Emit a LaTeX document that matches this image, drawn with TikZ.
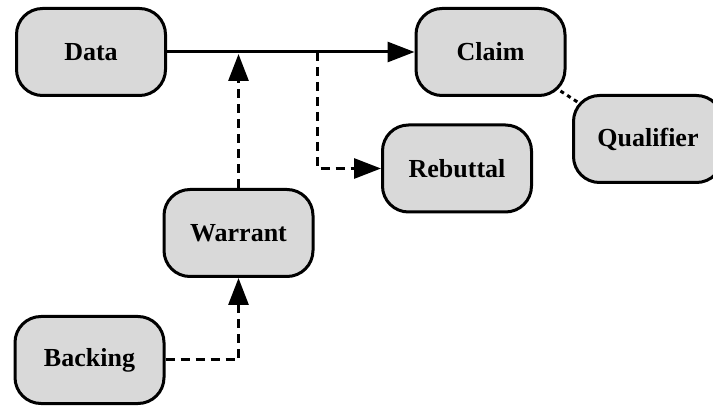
\documentclass[tikz,border=0pt]{standalone}
\usepackage{fontspec}
\setmainfont{Liberation Serif}
\usetikzlibrary{arrows.meta}

\tikzset{
  part/.style={draw, line width=3pt, fill=black!15, rounded corners=26pt,
    minimum width=149pt, minimum height=87pt, inner sep=0pt,
    font=\fontsize{26}{30}\selectfont\bfseries},
  tip/.style={-{Triangle[length=27pt,width=20pt]}},
  dashline/.style={line width=3pt, dash pattern=on 9pt off 6pt},
  dotline/.style={line width=3pt, dash pattern=on 4pt off 4pt}
}

\begin{document}
\begin{tikzpicture}[x=1pt, y=-1pt]

\useasboundingbox (0,0) rectangle (713,406);

\node[part] (data) at (91,52) {Data};
\node[part] (claim) at (490.5,52) {Claim};
\node[part] (qualifier) at (648,139) {Qualifier};
\node[part] (rebuttal) at (457,168.5) {Rebuttal};
\node[part] (warrant) at (238.5,233) {Warrant};
\node[part] (backing) at (89.5,360) {Backing};

\coordinate (split) at (317,52);
\coordinate (join) at (warrant.north |- data.east);
\coordinate (cq) at ([shift={(-6,-6)}]claim.south east);
\coordinate (qc) at ([shift={(7,9)}]qualifier.north west);

\draw[line width=3pt, tip] (data.east) -- (claim.west);

\draw[dashline, tip, shorten >=2pt] (warrant.north) -- (join);
\draw[dashline, tip] (split) |- (rebuttal.west);
\draw[dashline, tip] (backing.east) -| (warrant.south);

\draw[dotline] (cq) -- (qc);

\end{tikzpicture}
\end{document}
